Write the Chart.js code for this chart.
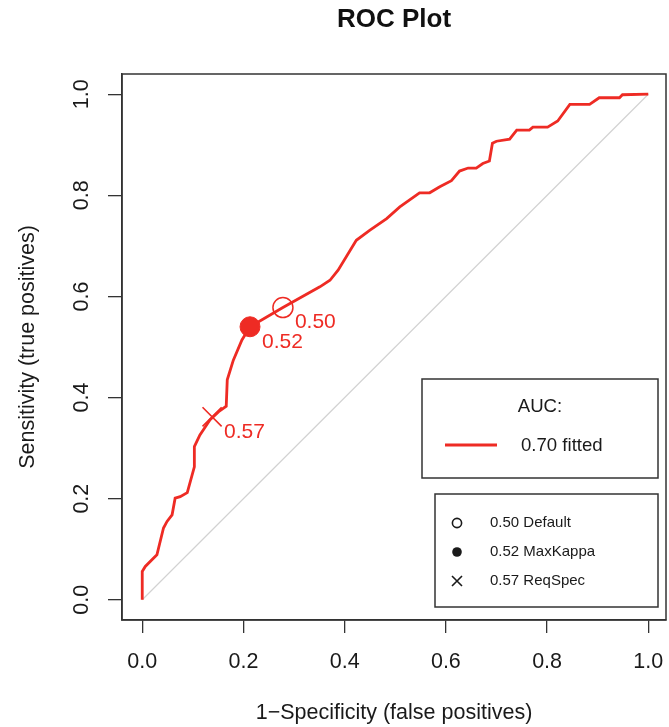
<!DOCTYPE html>
<html>
<head>
<meta charset="utf-8">
<title>ROC Plot</title>
<script src="https://cdn.jsdelivr.net/npm/chart.js@4.4.1/dist/chart.umd.min.js"></script>
<style>
  html, body { margin: 0; padding: 0; background: #fff; }
  #wrap { width: 669px; height: 727px; }
</style>
</head>
<body>
<div id="wrap"><canvas id="roc" width="669" height="727"></canvas></div>
<script>
// fitted ROC curve (1-specificity vs sensitivity)
const fpr = [0, 0, 0.006, 0.029, 0.042, 0.049, 0.059, 0.065, 0.075, 0.089, 0.103, 0.103,
  0.114, 0.134, 0.151, 0.166, 0.168, 0.180, 0.197, 0.213, 0.278, 0.292, 0.351, 0.371,
  0.387, 0.423, 0.450, 0.483, 0.509, 0.548, 0.568, 0.588, 0.611, 0.627, 0.644, 0.660,
  0.673, 0.686, 0.692, 0.700, 0.726, 0.740, 0.765, 0.772, 0.801, 0.821, 0.845, 0.884,
  0.903, 0.943, 0.949, 1.0];
const tpr = [0, 0.056, 0.066, 0.089, 0.142, 0.155, 0.168, 0.201, 0.204, 0.212, 0.263, 0.303,
  0.326, 0.356, 0.372, 0.383, 0.435, 0.474, 0.514, 0.540, 0.578, 0.586, 0.619, 0.632,
  0.652, 0.711, 0.731, 0.754, 0.777, 0.805, 0.805, 0.817, 0.829, 0.848, 0.854, 0.854,
  0.863, 0.868, 0.903, 0.907, 0.911, 0.929, 0.929, 0.935, 0.935, 0.947, 0.980, 0.980,
  0.993, 0.993, 0.999, 1.0];

// optimal thresholds marked on the curve
const cutoffValues = ['0.50', '0.52', '0.57'];
const cutoffNames = ['Default', 'MaxKappa', 'ReqSpec'];
const cutoffFpr = [0.278, 0.213, 0.138];
const cutoffTpr = [0.578, 0.540, 0.362];

const aucLabel = '0.70 fitted';
const axisTicks = [0, 0.2, 0.4, 0.6, 0.8, 1.0];

const RED = '#ee2b24';
const INK = '#1a1a1a';
const FONT = '"Liberation Sans", Arial, Helvetica, sans-serif';

Chart.defaults.font.family = FONT;
Chart.defaults.color = INK;

const fmt = v => Number(v).toFixed(1);
const fixTicks = scale => { scale.ticks = axisTicks.map(v => ({ value: v })); };

// title over the plot region, box, rotated y labels, point labels and the two legends
const rocDecor = {
  id: 'rocDecor',
  afterDraw(chart) {
    const { ctx, chartArea: a, scales } = chart;
    ctx.save();

    ctx.fillStyle = '#111';
    ctx.font = 'bold 26px ' + FONT;
    ctx.textAlign = 'center';
    ctx.textBaseline = 'middle';
    ctx.fillText('ROC Plot', (a.left + a.right) / 2, 20);

    ctx.strokeStyle = '#333';
    ctx.lineWidth = 1.5;
    ctx.strokeRect(a.left, a.top, a.right - a.left, a.bottom - a.top);

    // y tick labels run along the axis
    ctx.fillStyle = INK;
    ctx.font = '21.5px ' + FONT;
    scales.y.ticks.forEach(t => {
      ctx.save();
      ctx.translate(82, scales.y.getPixelForValue(t.value));
      ctx.rotate(-Math.PI / 2);
      ctx.fillText(fmt(t.value), 0, 0);
      ctx.restore();
    });

    // threshold labels next to each marker
    const pts = chart.getDatasetMeta(0).data;
    ctx.fillStyle = RED;
    ctx.font = '21px ' + FONT;
    ctx.textAlign = 'left';
    pts.forEach((p, i) => ctx.fillText(cutoffValues[i], p.x + 12, p.y + 15));

    // AUC legend
    const r = a.right - 8;
    ctx.strokeStyle = '#333';
    ctx.lineWidth = 1.5;
    ctx.strokeRect(422, 379, r - 422, 99);
    ctx.fillStyle = INK;
    ctx.font = '18.6px ' + FONT;
    ctx.textAlign = 'center';
    ctx.fillText('AUC:', 540, 407);
    ctx.textAlign = 'left';
    ctx.fillText(aucLabel, 521, 446);
    ctx.strokeStyle = RED;
    ctx.lineWidth = 3;
    ctx.beginPath();
    ctx.moveTo(445, 445);
    ctx.lineTo(497, 445);
    ctx.stroke();

    // threshold legend
    ctx.strokeStyle = '#333';
    ctx.lineWidth = 1.5;
    ctx.strokeRect(435, 494, r - 435, 113);
    ctx.font = '15px ' + FONT;
    const rows = [523, 552, 581];
    rows.forEach((y, i) => {
      ctx.fillStyle = INK;
      ctx.fillText(cutoffValues[i] + ' ' + cutoffNames[i], 490, y);
      ctx.strokeStyle = INK;
      ctx.lineWidth = 1.6;
      ctx.beginPath();
      if (i === 0) {
        ctx.arc(457, y, 4.6, 0, Math.PI * 2);
        ctx.stroke();
      } else if (i === 1) {
        ctx.arc(457, y, 4.8, 0, Math.PI * 2);
        ctx.fill();
      } else {
        ctx.moveTo(452, y - 5); ctx.lineTo(462, y + 5);
        ctx.moveTo(462, y - 5); ctx.lineTo(452, y + 5);
        ctx.stroke();
      }
    });

    ctx.restore();
  }
};

new Chart(document.getElementById('roc'), {
  type: 'scatter',
  data: {
    datasets: [
      {
        label: 'cutoffs',
        data: cutoffFpr.map((x, i) => ({ x, y: cutoffTpr[i] })),
        pointStyle: ['circle', 'circle', 'crossRot'],
        pointRadius: [10, 10, 13.5],
        borderColor: RED,
        backgroundColor: ['rgba(0,0,0,0)', RED, RED],
        borderWidth: [1.5, 1, 1.6],
        showLine: false
      },
      {
        label: aucLabel,
        data: fpr.map((x, i) => ({ x, y: tpr[i] })),
        showLine: true,
        borderColor: RED,
        borderWidth: 2.8,
        pointRadius: 0,
        tension: 0
      },
      {
        label: 'chance',
        data: [{ x: 0, y: 0 }, { x: 1, y: 1 }],
        showLine: true,
        borderColor: '#d2d2d2',
        borderWidth: 1.2,
        pointRadius: 0
      }
    ]
  },
  options: {
    responsive: false,
    animation: false,
    devicePixelRatio: 1,
    layout: { autoPadding: false, padding: { top: 74, right: 3, bottom: 0, left: 0 } },
    plugins: {
      legend: { display: false },
      tooltip: { enabled: false },
      title: { display: false }
    },
    scales: {
      x: {
        type: 'linear',
        min: -0.04,
        max: 1.035,
        afterBuildTicks: fixTicks,
        afterFit: s => { s.height = 107; s.paddingLeft = 0; s.paddingRight = 0; },
        grid: { drawOnChartArea: false, tickLength: 13, color: '#333', lineWidth: 1.3 },
        border: { display: true, color: '#333', width: 1.5 },
        ticks: { callback: fmt, font: { size: 21.5 }, color: INK, padding: 16, maxRotation: 0 },
        title: {
          display: true,
          text: '1\u2212Specificity (false positives)',
          font: { size: 21.5 },
          color: INK,
          padding: { top: 0, bottom: 1 }
        }
      },
      y: {
        type: 'linear',
        min: -0.04,
        max: 1.04,
        afterBuildTicks: fixTicks,
        afterFit: s => { s.width = 122; s.paddingTop = 0; s.paddingBottom = 0; },
        grid: { drawOnChartArea: false, tickLength: 14, color: '#333', lineWidth: 1.3 },
        border: { display: true, color: '#333', width: 1.5 },
        ticks: { display: false },
        title: {
          display: true,
          text: 'Sensitivity (true positives)',
          font: { size: 21.5 },
          color: INK,
          padding: { top: 15, bottom: 0 }
        }
      }
    }
  },
  plugins: [rocDecor]
});
</script>
</body>
</html>
